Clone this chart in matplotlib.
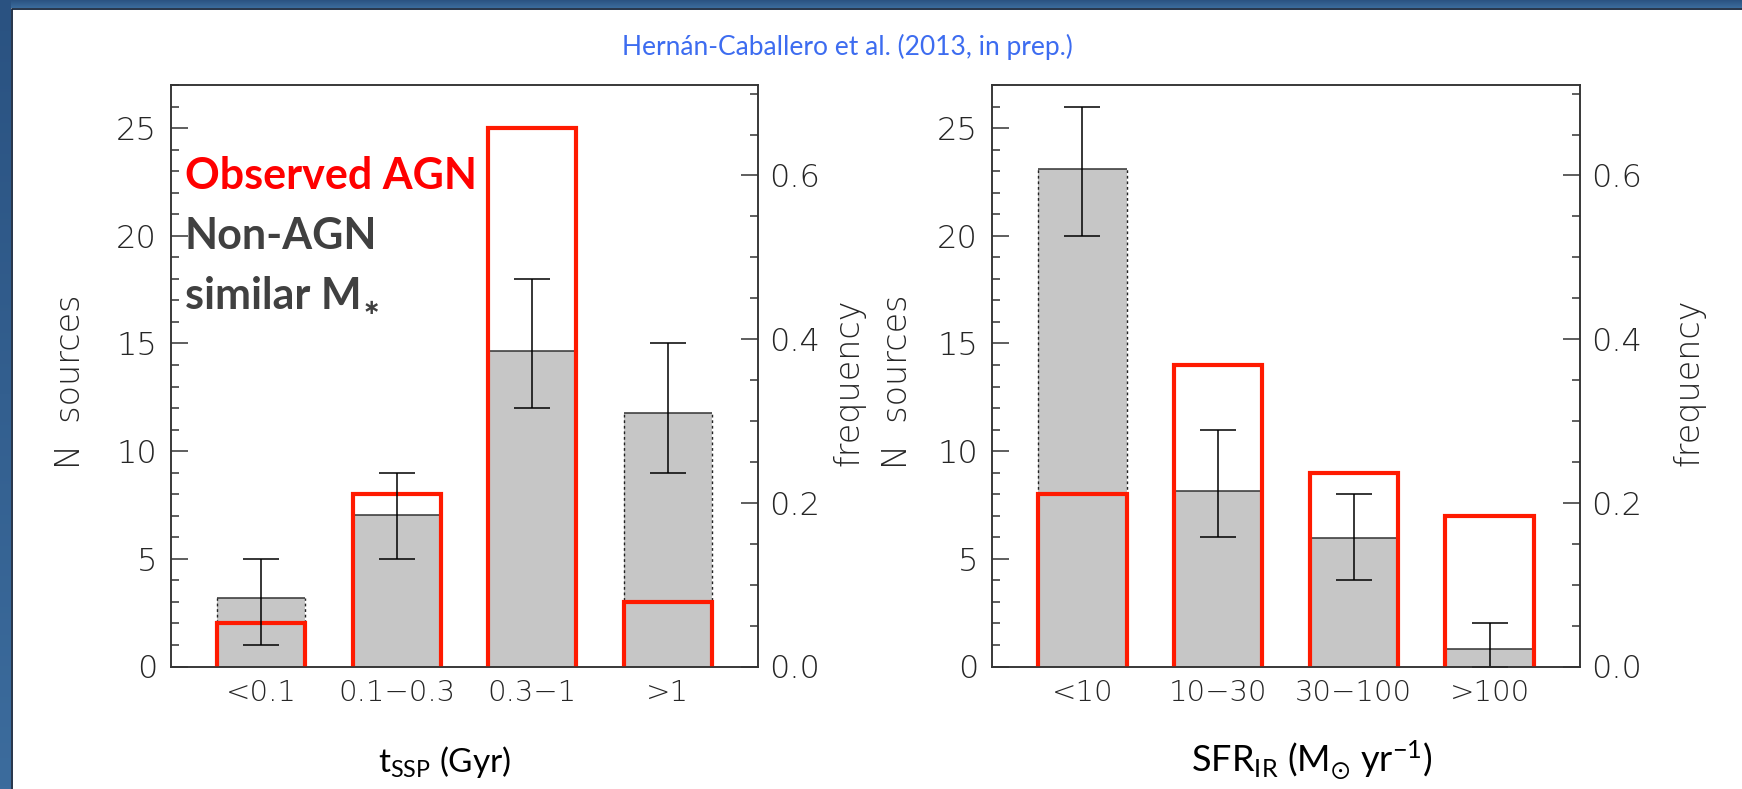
import numpy as np
import matplotlib.pyplot as plt
from matplotlib.colors import LinearSegmentedColormap
from matplotlib.lines import Line2D
from matplotlib.ticker import MultipleLocator, FormatStrFormatter

plt.rcParams['font.family'] = ['DejaVu Sans']
plt.rcParams['mathtext.fontset'] = 'custom'
plt.rcParams['mathtext.rm'] = 'Lato'
plt.rcParams['mathtext.it'] = 'Lato:italic'
plt.rcParams['mathtext.bf'] = 'Lato:bold'
plt.rcParams['mathtext.fallback'] = 'stixsans'

# stellar population age bins (Gyr)
age_bins = ['<0.1', '0.1\u22120.3', '0.3\u22121', '>1']
age_agn = [2, 8, 25, 3]
age_ctrl = [3.2, 7.05, 14.65, 11.75]
age_ctrl_lo = [1, 5, 12, 9]
age_ctrl_hi = [5, 9, 18, 15]

# infrared star formation rate bins (Msun/yr)
sfr_bins = ['<10', '10\u221230', '30\u2212100', '>100']
sfr_agn = [8, 14, 9, 7]
sfr_ctrl = [23.1, 8.15, 5.95, 0.8]
sfr_ctrl_lo = [20, 6, 4, 0]
sfr_ctrl_hi = [26, 11, 8, 2]

RED = '#ff1a00'
GREY = '#c6c6c6'
INK = '#262626'
W = 0.65
YMAX = 27
FW, FH = 1742, 789

fig = plt.figure(figsize=(FW / 100, FH / 100), dpi=100, facecolor='white')

# slide frame: blue bands on the top and left edges
blues = LinearSegmentedColormap.from_list('frame', ['#2a5281', '#3c6c9d'])
for rect in ([0, 1 - 8 / FH, 1, 8 / FH], [0, 0, 11 / FW, 1]):
    band = fig.add_axes(rect, zorder=-10)
    band.imshow(np.linspace(0, 1, 256).reshape(-1, 1), cmap=blues,
                aspect='auto', extent=[0, 1, 0, 1])
    band.axis('off')
fig.add_artist(Line2D([11.5 / FW, 11.5 / FW, 1], [0, 1 - 8.5 / FH, 1 - 8.5 / FH],
                      color='#14233a', lw=1.3))


def draw_panel(rect, bins, agn, ctrl, lo, hi):
    ax = fig.add_axes(rect)
    x = np.arange(len(bins))
    agn = np.asarray(agn, float)
    ctrl = np.asarray(ctrl, float)

    # control sample: grey fill, solid top, dashed sides
    ax.bar(x, ctrl, width=W, color=GREY, edgecolor='none', zorder=1)
    ax.hlines(ctrl, x - W / 2, x + W / 2, color='#333333', lw=1.1, zorder=2)
    ax.vlines(np.r_[x - W / 2, x + W / 2], 0, np.r_[ctrl, ctrl],
              color='#222222', lw=1.0, linestyles=(0, (2, 2)), zorder=2)

    # observed AGN: open red histogram
    for xi, h in zip(x, agn):
        ax.plot([xi - W / 2, xi - W / 2, xi + W / 2, xi + W / 2], [0, h, h, 0],
                color=RED, lw=3, solid_joinstyle='miter',
                solid_capstyle='butt', zorder=3)

    ax.errorbar(x, ctrl, yerr=[ctrl - np.asarray(lo), np.asarray(hi) - ctrl],
                fmt='none', ecolor='black', elinewidth=1.1, capsize=13,
                capthick=1.1, zorder=4)

    ax.set_xlim(-2 / 3, len(bins) - 1 + 2 / 3)
    ax.set_ylim(0, YMAX)
    ax.set_xticks(x)
    ax.set_xticklabels(bins, fontsize=21, color=INK, fontweight=200)
    ax.tick_params(axis='x', length=0, pad=9)
    ax.yaxis.set_major_locator(MultipleLocator(5))
    ax.yaxis.set_minor_locator(MultipleLocator(1))
    ax.tick_params(axis='y', which='both', direction='in', width=1.1,
                   color='#333333', labelsize=23, labelcolor=INK, pad=10)
    ax.tick_params(axis='y', which='major', length=12)
    ax.tick_params(axis='y', which='minor', length=6)

    # frequency scale relative to the AGN sample size
    fx = ax.twinx()
    fx.set_ylim(0, YMAX / agn.sum())
    fx.yaxis.set_major_locator(MultipleLocator(0.2))
    fx.yaxis.set_minor_locator(MultipleLocator(0.05))
    fx.yaxis.set_major_formatter(FormatStrFormatter('%.1f'))
    fx.tick_params(axis='y', which='both', direction='in', width=1.1,
                   color='#333333', labelsize=23, labelcolor=INK, pad=8)
    fx.tick_params(axis='y', which='major', length=12)
    fx.tick_params(axis='y', which='minor', length=6)

    for lab in ax.get_yticklabels() + fx.get_yticklabels():
        lab.set_fontweight(200)
    for a in (ax, fx):
        for s in a.spines.values():
            s.set_color('#333333')
            s.set_linewidth(1.1)
    return ax


ax1 = draw_panel([171 / FW, 1 - 666.5 / FH, 587 / FW, 581.5 / FH],
                 age_bins, age_agn, age_ctrl, age_ctrl_lo, age_ctrl_hi)
ax2 = draw_panel([992 / FW, 1 - 666.5 / FH, 588 / FW, 581.5 / FH],
                 sfr_bins, sfr_agn, sfr_ctrl, sfr_ctrl_lo, sfr_ctrl_hi)

# rotated axis titles
for xp, label in [(70, 'N  sources'), (849, 'frequency'),
                  (897, 'N  sources'), (1689, 'frequency')]:
    fig.text(xp / FW, 1 - 382 / FH, label, rotation=90, ha='center',
             va='center', fontsize=24, color=INK, fontweight=200)

fig.text(445 / FW, 1 - 772 / FH, r't$_{\mathrm{SSP}}$ (Gyr)',
         family='Lato', fontsize=24, color='black', ha='center', va='baseline')
fig.text(1312 / FW, 1 - 772 / FH,
         r'SFR$_{\mathrm{IR}}$ (M$_{\odot}$ yr$^{\mathrm{-1}}$)',
         family='Lato', fontsize=26, color='black', ha='center', va='baseline')

fig.text(847 / FW, 1 - 47 / FH, 'Hernán-Caballero et al. (2013, in prep.)',
         family='Lato', fontsize=19, color='#3d6cf0', ha='center', va='center')

# legend text in the left panel
legend_kw = dict(transform=ax1.transAxes, family='Lato', fontweight='bold',
                 fontsize=31, va='baseline')
ax1.text(0.023, 0.821, 'Observed AGN', color='#ff0000', **legend_kw)
ax1.text(0.023, 0.718, 'Non-AGN', color='#404040', **legend_kw)
mstar = ax1.text(0.023, 0.615, 'similar M', color='#404040', **legend_kw)
ax1.annotate('\u2217', xy=(1, 0.22), xycoords=mstar, xytext=(1, -5),
             textcoords='offset points', family=['DejaVu Sans'],
             fontweight='bold', fontsize=15, color='#404040', va='baseline')

fig.savefig('out.png', dpi=100)
